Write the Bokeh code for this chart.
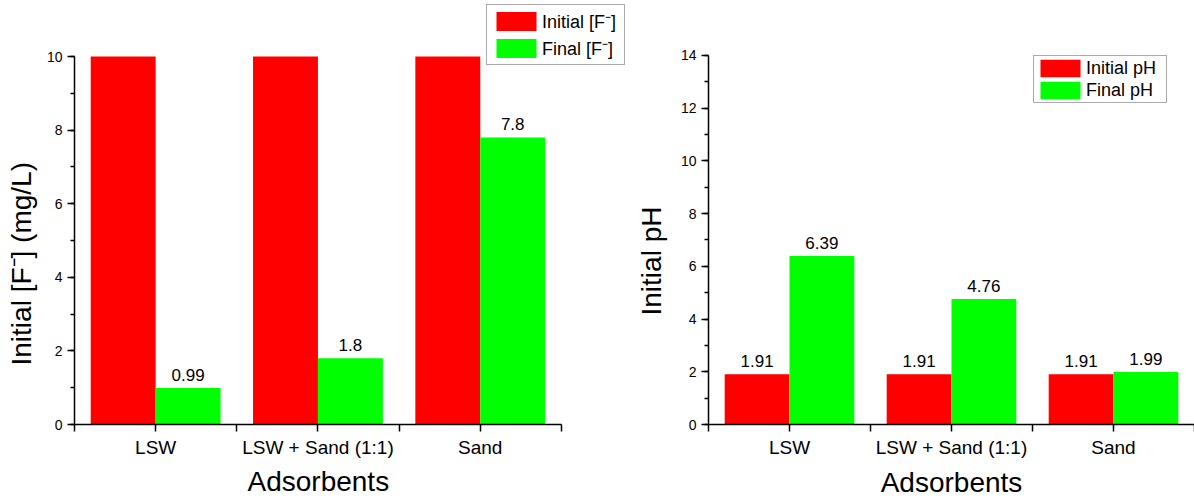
import numpy as np
from bokeh.plotting import figure
from bokeh.models import Range1d, FixedTicker, SingleIntervalTicker, Title
from bokeh.layouts import row
from bokeh.embed import file_html
from bokeh.resources import INLINE
from bokeh.core.properties import value

# ---- data ----
categories = ["LSW", "LSW + Sand (1:1)", "Sand"]
initial_f = [10, 10, 10]
final_f = [0.99, 1.8, 7.8]
initial_ph = [1.91, 1.91, 1.91]
final_ph = [6.39, 4.76, 1.99]

FONT = "Liberation Sans"
RED = "#FF0000"
GREEN = "#00FF00"
BAR_W = 0.4
xpos = np.arange(1, len(categories) + 1)


def make_panel(width, border_left, x_end, y_end, y_max, y_title, y_title_offset,
               y_title_standoff, init_vals, final_vals, init_name, final_name,
               label_init, legend_xy, legend_label_width,
               glyph_h, spacing, padding, x_title_offset=None):
    p = figure(width=width, height=500, output_backend="svg",
               toolbar_location=None,
               x_range=Range1d(0.5, x_end),
               y_range=Range1d(0, y_end),
               min_border_left=border_left, min_border_right=0,
               min_border_top=0, min_border_bottom=76)
    p.outline_line_color = None
    p.xgrid.visible = False
    p.ygrid.visible = False
    p.background_fill_color = "white"

    p.vbar(x=xpos - BAR_W / 2, top=init_vals, width=BAR_W, fill_color=RED,
           line_color=None, legend_label=init_name)
    p.vbar(x=xpos + BAR_W / 2, top=final_vals, width=BAR_W, fill_color=GREEN,
           line_color=None, legend_label=final_name)

    p.text(x=xpos + BAR_W / 2, y=final_vals, text=[str(v) for v in final_vals],
           text_font=value(FONT), text_font_size="17px", text_align="center",
           text_baseline="alphabetic", y_offset=-13, text_color="black")
    if label_init:
        p.text(x=xpos - BAR_W / 2, y=init_vals, text=[str(v) for v in init_vals],
               text_font=value(FONT), text_font_size="17px", text_align="center",
               text_baseline="alphabetic", y_offset=-13, text_color="black")

    # x axis
    xa = p.xaxis[0]
    xa.bounds = (0.5, len(categories) + 0.5)
    xa.ticker = FixedTicker(ticks=list(xpos),
                            minor_ticks=[0.5 + i for i in range(len(categories) + 1)])
    xa.major_label_overrides = {int(i): c for i, c in zip(xpos, categories)}
    xa.major_label_text_font = FONT
    xa.major_label_text_font_size = "19px"
    xa.major_label_text_color = "black"
    xa.major_label_standoff = 5
    if x_title_offset is None:
        xa.axis_label = "Adsorbents"
        xa.axis_label_text_font = FONT
        xa.axis_label_text_font_size = "28px"
        xa.axis_label_text_font_style = "normal"
        xa.axis_label_text_color = "black"
        xa.axis_label_standoff = 6
    else:
        p.add_layout(Title(text="Adsorbents", align="left", offset=x_title_offset,
                           text_font=FONT, text_font_size="28px",
                           text_font_style="normal", text_color="black",
                           standoff=6), "below")
    xa.major_tick_out = 7
    xa.major_tick_in = 0
    xa.minor_tick_out = 7
    xa.minor_tick_in = 0

    # y axis
    ya = p.yaxis[0]
    ya.bounds = (0, y_max)
    ya.ticker = SingleIntervalTicker(interval=2, num_minor_ticks=2)
    ya.major_label_text_font = FONT
    ya.major_label_text_font_size = "14px"
    ya.major_label_text_color = "black"
    ya.major_label_standoff = 5
    ya.major_tick_out = 7
    ya.major_tick_in = 0
    ya.minor_tick_out = 4
    ya.minor_tick_in = 0
    p.add_layout(Title(text=y_title, align="left", offset=y_title_offset,
                       vertical_align="top",
                       text_font=FONT, text_font_size="28px",
                       text_font_style="normal", text_color="black",
                       standoff=y_title_standoff), "left")

    for ax in (xa, ya):
        ax.axis_line_width = 1.5
        ax.axis_line_color = "black"
        ax.major_tick_line_width = 1.5
        ax.minor_tick_line_width = 1.5
        ax.major_tick_line_color = "black"
        ax.minor_tick_line_color = "black"

    lg = p.legend[0]
    lg.location = legend_xy
    lg.label_text_font = FONT
    lg.label_text_font_size = "18px"
    lg.label_text_color = "black"
    lg.glyph_width = 50
    lg.glyph_height = glyph_h
    lg.label_height = glyph_h
    lg.label_width = legend_label_width
    lg.label_standoff = 1
    lg.spacing = spacing
    lg.padding = padding
    lg.margin = 0
    lg.border_line_color = "#555555"
    lg.border_line_width = 1
    lg.background_fill_color = "white"
    lg.background_fill_alpha = 1
    return p


p1 = make_panel(626, 74, 0.5 + 552 / 162.3, 424 / 36.8, 10,
                "Initial [F\u207b] (mg/L)", 59, 10, initial_f, final_f,
                "Initial [F\u207b]", "Final [F\u207b]", False,
                (412, 359), 78, 24, 3, 4, x_title_offset=173)
p2 = make_panel(568, 82, 0.5 + 486 / 162.0, 424 / 26.36, 14,
                "Initial pH", 109, 17, initial_ph, final_ph,
                "Initial pH", "Final pH", True,
                (325, 321), 79, 22, 0, 1)

layout = row(p1, p2)
open("out.html", "w").write(file_html(layout, INLINE))
